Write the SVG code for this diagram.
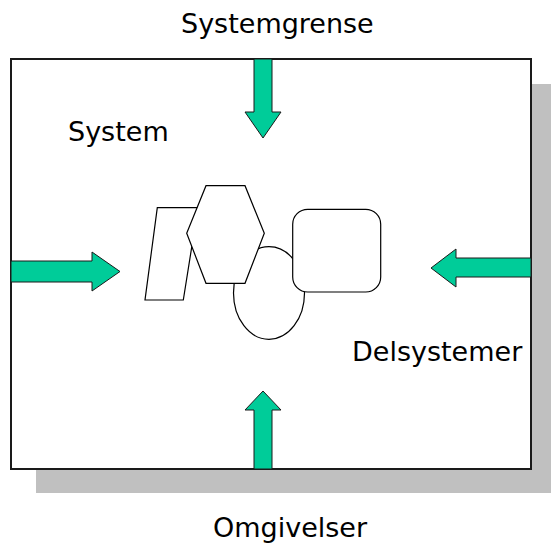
<svg xmlns="http://www.w3.org/2000/svg" width="551" height="548" viewBox="0 0 551 548">
<style>
.lbl{font-family:"DejaVu Sans",sans-serif;font-size:27px;fill:#000}
.arrow{fill:#00CC99;stroke:#1a1a1a;stroke-width:1}
.shape{fill:#fff;stroke:#000;stroke-width:1.2}
</style>
<rect width="551" height="548" fill="#fff"/>
<g id="system">
<rect x="36" y="84" width="515" height="409" fill="#C0C0C0"/>
<rect x="11" y="59" width="520" height="410" fill="#fff" stroke="#1a1a1a" stroke-width="2"/>
</g>
<g id="subsystems">
<polygon class="shape" points="157.3,207.7 198,207.7 183.3,300 145,300"/>
<ellipse class="shape" cx="269" cy="293" rx="35.5" ry="46.3"/>
<polygon class="shape" points="206,185.7 245,185.7 264.3,233.3 245,283.3 206,283.3 186.7,233.3"/>
<rect class="shape" x="292.7" y="209.3" width="88" height="82.7" rx="15" ry="15"/>
</g>
<g id="connectors">
<path class="arrow" d="M254,59 V112 H245 L263,138 L281,112 H272 V59 Z"/>
<path class="arrow" d="M11,261 H92 V252 L120,271.5 L92,291 V282 H11 Z"/>
<path class="arrow" d="M531,258 H456 V249 L431,268 L456,287 V277 H531 Z"/>
<path class="arrow" d="M254,469 V410 H245 L263,391 L281,410 H272 V469 Z"/>
</g>
<g id="labels">
<text class="lbl" x="181" y="33">Systemgrense</text>
<text class="lbl" x="68" y="141">System</text>
<text class="lbl" x="352" y="361">Delsystemer</text>
<text class="lbl" x="213" y="537">Omgivelser</text>
</g>
</svg>
